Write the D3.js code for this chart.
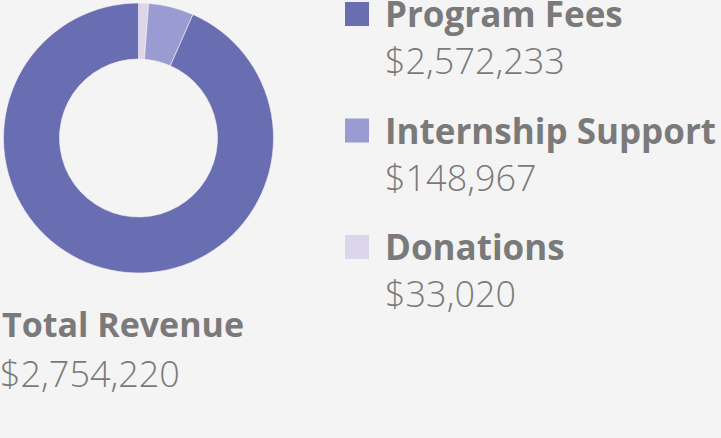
<!DOCTYPE html>
<html>
<head>
<meta charset="utf-8">
<script src="https://cdn.jsdelivr.net/npm/d3@7"></script>
<style>
  html, body { margin: 0; padding: 0; background: #f4f4f4; }
  svg { display: block; }
  .name { font-family: "Open Sans", sans-serif; font-weight: 700; fill: #7a7a7a; }
  .amount { font-family: "Open Sans", sans-serif; font-weight: 300; fill: #7a7a7a; }
</style>
</head>
<body>
<div id="chart"></div>
<script>
// revenue sources, drawn clockwise from the top
var categories = ["Donations", "Internship Support", "Program Fees"];
var amounts = [33020, 148967, 2572233];
var colores = ["#ddd6eb", "#9a9bd0", "#696db1"];
// legend is listed in the other order
var legendOrder = ["Program Fees", "Internship Support", "Donations"];
var totalLabel = "Total Revenue";

var width = 721, height = 438;
var fmt = d3.format("$,");

var svg = d3.select("#chart")
  .append("svg")
  .attr("width", width)
  .attr("height", height);

var datos = categories.map(function(c, i) {
  return { categoria: c, monto: amounts[i] };
});

var color = d3.scaleOrdinal().domain(categories).range(colores);

var pie = d3.pie()
  .sort(null)
  .value(function(d) { return d.monto; });

var arc = d3.arc()
  .innerRadius(79)
  .outerRadius(135);

var dona = svg.append("g")
  .attr("transform", "translate(138.5,138)");

dona.selectAll("path")
  .data(pie(datos))
  .join("path")
  .attr("d", arc)
  .attr("fill", function(d) { return color(d.data.categoria); })
  .attr("stroke", "#f4f4f4")
  .attr("stroke-width", 0.6);

// legend
var leyenda = svg.append("g").attr("transform", "translate(345,0)");
var fila = d3.scalePoint().domain(legendOrder).range([27, 260]);

var item = leyenda.selectAll("g")
  .data(legendOrder)
  .join("g")
  .attr("transform", function(d) { return "translate(0," + fila(d) + ")"; });

item.append("rect")
  .attr("x", 0)
  .attr("y", -25)
  .attr("width", 24)
  .attr("height", 24)
  .attr("fill", function(d) { return color(d); });

item.append("text")
  .attr("class", "name")
  .attr("x", 40)
  .attr("y", 0)
  .attr("font-size", 35)
  .text(function(d) { return d; });

item.append("text")
  .attr("class", "amount")
  .attr("x", 40)
  .attr("y", 47)
  .attr("font-size", 36)
  .text(function(d) { return fmt(amounts[categories.indexOf(d)]); });

// total under the donut
var total = d3.sum(amounts);
svg.append("text")
  .attr("class", "name")
  .attr("x", 2)
  .attr("y", 337)
  .attr("font-size", 34)
  .text(totalLabel);

svg.append("text")
  .attr("class", "amount")
  .attr("x", 0)
  .attr("y", 387)
  .attr("font-size", 36)
  .text(fmt(total));
</script>
</body>
</html>
